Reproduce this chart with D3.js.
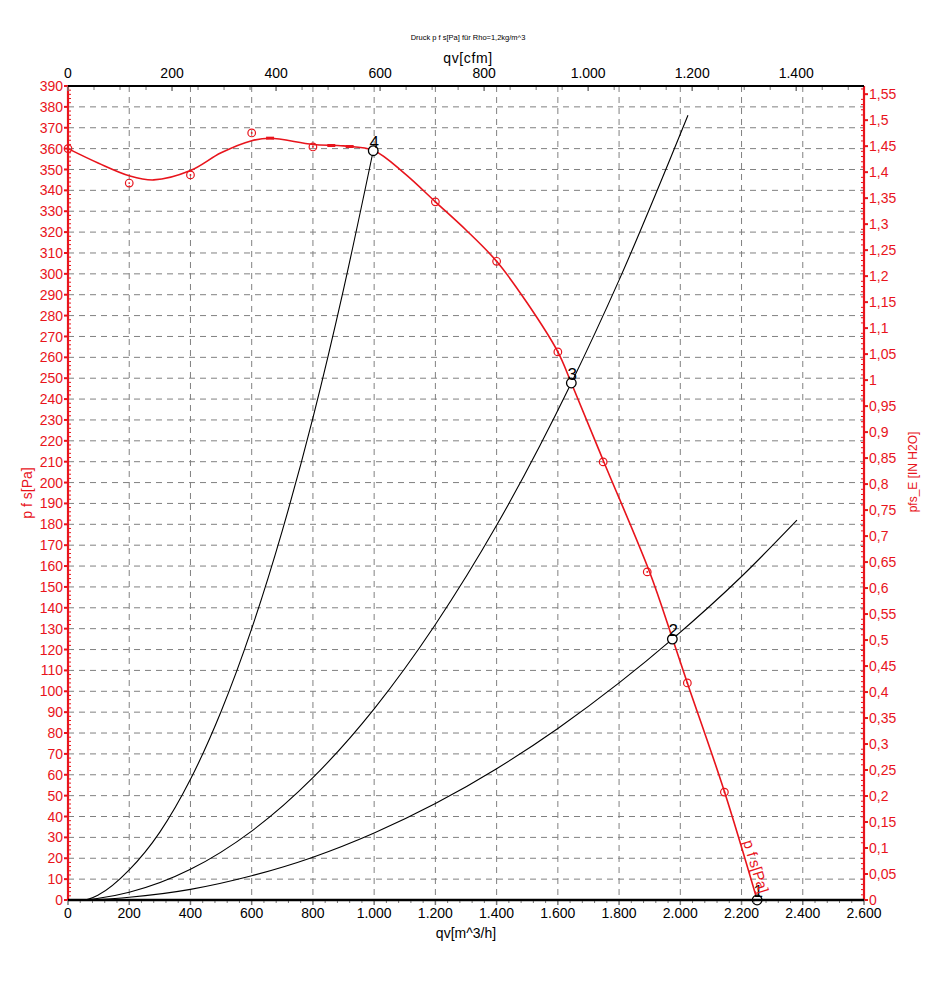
<!DOCTYPE html>
<html><head><meta charset="utf-8">
<script src="https://cdn.jsdelivr.net/npm/d3@7"></script>
<style>body{margin:0;background:#fff}svg{display:block;font-family:"Liberation Sans",Arial,sans-serif}</style>
</head><body><svg id="c" width="942" height="985"></svg>
<script>
// ---- data ----
const xTicksM3h = [0,200,400,600,800,1000,1200,1400,1600,1800,2000,2200,2400,2600];
const xTicksCfm = [0,200,400,600,800,1000,1200,1400];
const yTicksPa = d3.range(0, 391, 10);
const yTicksInH2O = d3.range(0, 32).map(i => i * 0.05);
// fan curve (smoothed) q [m^3/h], p [Pa]
const fanCurveQ = [0,100,200,280,400,500,600,660,800,900,1000,1100,1200,1300,1400,1500,1600,1644,1750,1900,1975,2023,2144,2251];
const fanCurveP = [360,353,347,345,349.5,358,363.8,365,362,361.3,359,348,334.5,321,306,286,262.6,247.7,210,157,125,104,52,0];
// measured points
const measQ = [0,200,400,600,800,1200,1400,1600,1748,1892,2023,2144];
const measP = [360,343.5,347.4,367.5,360.8,334.5,306,262.6,209.9,157.2,104,51.7];
// dash marks on fan curve
const dashQ = [660,860,920];
const dashP = [365,361.5,361];
// system curves
const sys4Q = [0,50,100,200,300,400,500,600,700,800,900,997];
const sys4P = [0,0,2.5,14.4,32.5,57.8,90.3,130,177,231,292.6,359];
const sys3Q = [0,50,100,200,400,600,800,1000,1200,1400,1644,1800,2025];
const sys3P = [0,0,0.8,3.7,14.7,33,58.6,91.6,132,179.5,247.7,297,376];
const sys2Q = [0,50,200,400,600,800,1000,1200,1400,1600,1800,1974,2200,2381];
const sys2P = [0,0,1.3,5.1,11.6,20.5,32.1,46.2,62.9,82.2,104,125,155,182];
// operating points
const opLabels = ["1","2","3","4"];
const opQ = [2251,1974,1644,997];
const opP = [0,125,247.7,359];

// ---- setup ----
const RED = "#e8141c";
const svg = d3.select("#c");
const L = 68, R = 864, T = 86, B = 900;
const x = d3.scaleLinear([0, 2600], [L, R]);
const xTop = d3.scaleLinear([0, 2600 / 1.699011], [L, R]);
const y = d3.scaleLinear([0, 390], [B, T]);
const yR = d3.scaleLinear([0, 390 / 249.089], [B, T]);
const loc = d3.formatLocale({decimal: ",", thousands: ".", grouping: [3], currency: ["", "€"]});
const fInt = loc.format(",d");
const fDec = loc.format("~g");

// grid
const g = svg.append("g").attr("stroke", "#808080").attr("stroke-dasharray", "6,5").attr("stroke-width", 1);
xTicksM3h.filter(v => v > 0 && v < 2600).forEach(v =>
  g.append("line").attr("x1", x(v)).attr("x2", x(v)).attr("y1", T).attr("y2", B));
yTicksPa.filter(v => v > 0 && v < 390).forEach(v =>
  g.append("line").attr("x1", L).attr("x2", R).attr("y1", y(v)).attr("y2", y(v)));

// system curves
const line = d3.line().x(d => x(d[0])).y(d => y(d[1])).curve(d3.curveMonotoneX);
[[sys4Q, sys4P], [sys3Q, sys3P], [sys2Q, sys2P]].forEach(([q, p]) =>
  svg.append("path").attr("d", line(q.map((v, i) => [v, p[i]])))
    .attr("fill", "none").attr("stroke", "#000").attr("stroke-width", 1.1));

// fan curve
svg.append("path").attr("d", d3.line().x(d => x(d[0])).y(d => y(d[1])).curve(d3.curveCatmullRom)(fanCurveQ.map((v, i) => [v, fanCurveP[i]])))
  .attr("fill", "none").attr("stroke", RED).attr("stroke-width", 1.6);
dashQ.forEach((v, i) => svg.append("line").attr("x1", x(v) - 4).attr("x2", x(v) + 4)
  .attr("y1", y(dashP[i])).attr("y2", y(dashP[i])).attr("stroke", RED).attr("stroke-width", 3));
measQ.forEach((v, i) => {
  svg.append("circle").attr("cx", x(v)).attr("cy", y(measP[i])).attr("r", 3.8)
    .attr("fill", "none").attr("stroke", RED).attr("stroke-width", 1.2);
  svg.append("circle").attr("cx", x(v)).attr("cy", y(measP[i])).attr("r", 0.9).attr("fill", RED);
});

// operating points
opQ.forEach((v, i) => {
  svg.append("circle").attr("cx", x(v)).attr("cy", y(opP[i])).attr("r", 4.8)
    .attr("fill", "#fff").attr("stroke", "#000").attr("stroke-width", 1.3);
  svg.append("text").attr("x", x(v) + 1).attr("y", y(opP[i]) - 3).attr("text-anchor", "middle")
    .attr("font-size", 17).attr("fill", "#000").text(opLabels[i]);
});

// curve label
svg.append("text").attr("transform", `translate(751,868) rotate(73)`)
  .attr("text-anchor", "middle").attr("font-size", 15).attr("fill", RED).text("p f s[Pa]");

// ---- axes ----
// left
const aL = svg.append("g");
d3.range(0, 391, 2).forEach(v => {
  const major = v % 10 === 0;
  aL.append("line").attr("x1", major ? L - 4 : L).attr("x2", major ? L : L + 3)
    .attr("y1", y(v)).attr("y2", y(v)).attr("stroke", RED).attr("stroke-width", major ? 2 : 1);
});
yTicksPa.forEach(v => aL.append("text").attr("x", L - 5).attr("y", y(v)).attr("dy", "0.36em")
  .attr("text-anchor", "end").attr("font-size", 14).attr("fill", RED).text(fInt(v)));
aL.append("line").attr("x1", L).attr("x2", R).attr("y1", 0).attr("y2", 0).remove();
aL.append("line").attr("x1", L).attr("x2", L).attr("y1", T).attr("y2", B).attr("stroke", RED).attr("stroke-width", 2.2);
svg.append("text").attr("transform", `translate(32,493) rotate(-90)`).attr("text-anchor", "middle")
  .attr("font-size", 14).attr("fill", RED).text("p f s[Pa]");

// right
const aR = svg.append("g");
d3.range(0, 157).map(i => i * 0.01).filter(v => yR(v) >= T - 0.5).forEach((v, i) => {
  const major = i % 5 === 0;
  aR.append("line").attr("x1", major ? R : R - 3).attr("x2", major ? R + 4 : R)
    .attr("y1", yR(v)).attr("y2", yR(v)).attr("stroke", RED).attr("stroke-width", major ? 2 : 1);
});
yTicksInH2O.forEach(v => aR.append("text").attr("x", R + 5).attr("y", yR(v)).attr("dy", "0.36em")
  .attr("font-size", 14).attr("fill", RED).text(fDec(+v.toFixed(2))));
aR.append("line").attr("x1", R).attr("x2", R).attr("y1", T).attr("y2", B).attr("stroke", RED).attr("stroke-width", 2.2);
svg.append("text").attr("transform", `translate(917,472) rotate(-90)`).attr("text-anchor", "middle")
  .attr("font-size", 12).attr("fill", RED).text("pfs_E [IN H2O]");

// bottom
const aB = svg.append("g");
d3.range(0, 2601, 40).forEach(v => {
  const major = v % 200 === 0;
  aB.append("line").attr("x1", x(v)).attr("x2", x(v)).attr("y1", B).attr("y2", B + (major ? 5 : 3))
    .attr("stroke", "#777").attr("stroke-width", major ? 1.5 : 1);
});
aB.append("line").attr("x1", L).attr("x2", R).attr("y1", B).attr("y2", B).attr("stroke", "#000").attr("stroke-width", 2.5);
xTicksM3h.forEach(v => aB.append("text").attr("x", x(v)).attr("y", B + 18).attr("text-anchor", "middle")
  .attr("font-size", 14).attr("fill", "#000").text(fInt(v)));
svg.append("text").attr("x", (L + R) / 2).attr("y", B + 38).attr("text-anchor", "middle")
  .attr("font-size", 14).attr("fill", "#000").text("qv[m^3/h]");

// top
const aT = svg.append("g");
d3.range(0, 1531, 50).forEach(v => {
  const major = v % 200 === 0;
  aT.append("line").attr("x1", xTop(v)).attr("x2", xTop(v)).attr("y1", T).attr("y2", T + (major ? 5 : 4))
    .attr("stroke", "#777").attr("stroke-width", major ? 1.5 : 1);
});
aT.append("line").attr("x1", L).attr("x2", R).attr("y1", T).attr("y2", T).attr("stroke", "#000").attr("stroke-width", 2);
xTicksCfm.forEach(v => aT.append("text").attr("x", xTop(v)).attr("y", T - 8).attr("text-anchor", "middle")
  .attr("font-size", 14).attr("fill", "#000").text(fInt(v)));
svg.append("text").attr("x", 468).attr("y", T - 23).attr("text-anchor", "middle")
  .attr("font-size", 14).attr("letter-spacing", 0.6).attr("fill", "#000").text("qv[cfm]");
svg.append("text").attr("x", 468).attr("y", 40).attr("text-anchor", "middle")
  .attr("font-size", 7.5).attr("fill", "#000").text("Druck p f s[Pa] für Rho=1,2kg/m^3");
</script></body></html>
